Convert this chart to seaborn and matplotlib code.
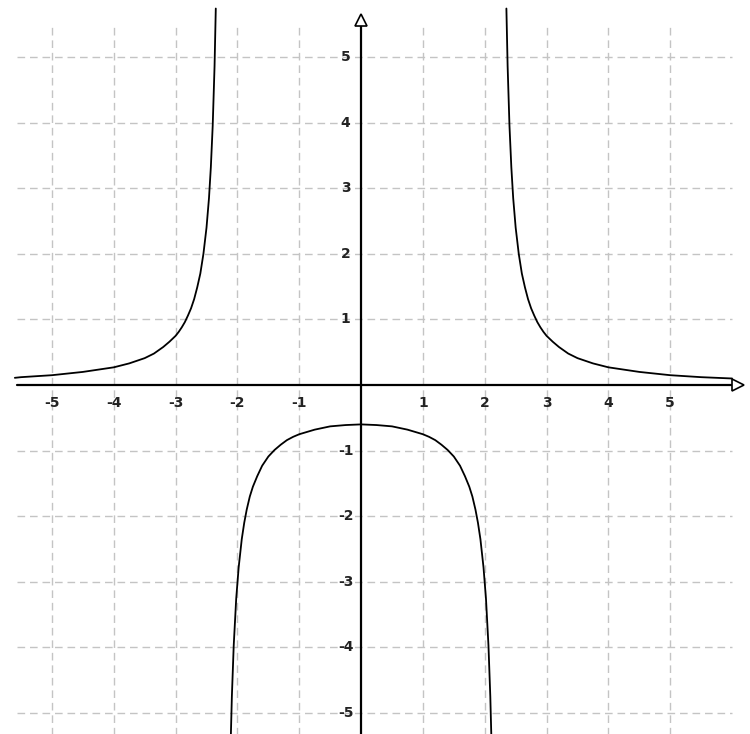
import numpy as np
import pandas as pd
import seaborn as sns
import matplotlib.pyplot as plt

# curve points, one list per branch
left_x = [-5.60, -5.50, -5.00, -4.50, -4.00, -3.75, -3.50, -3.35, -3.20, -3.10,
          -3.00, -2.95, -2.90, -2.85, -2.80, -2.75, -2.70, -2.65, -2.60, -2.55,
          -2.50, -2.46, -2.43, -2.40, -2.37, -2.35]
left_y = [0.11, 0.12, 0.15, 0.20, 0.27, 0.33, 0.41, 0.48, 0.58, 0.66,
          0.75, 0.81, 0.88, 0.96, 1.06, 1.17, 1.31, 1.49, 1.70, 2.00,
          2.40, 2.85, 3.32, 3.95, 4.86, 5.74]

mid_x = [-2.11, -2.09, -2.06, -2.02, -1.98, -1.93, -1.89, -1.85, -1.80, -1.75,
         -1.68, -1.60, -1.50, -1.40, -1.30, -1.20, -1.10, -1.00, -0.75, -0.50,
         -0.25, 0.00, 0.25, 0.50, 0.75, 1.00, 1.10, 1.20, 1.30, 1.40,
         1.50, 1.60, 1.68, 1.75, 1.80, 1.85, 1.89, 1.93, 1.98, 2.02,
         2.06, 2.09, 2.11]
mid_y = [-5.48, -4.75, -3.97, -3.26, -2.78, -2.35, -2.10, -1.90, -1.70, -1.55,
         -1.39, -1.23, -1.09, -0.99, -0.91, -0.84, -0.79, -0.75, -0.68, -0.63,
         -0.61, -0.60, -0.61, -0.63, -0.68, -0.75, -0.79, -0.84, -0.91, -0.99,
         -1.09, -1.23, -1.39, -1.55, -1.70, -1.90, -2.10, -2.35, -2.78, -3.26,
         -3.97, -4.75, -5.48]

right_x = [2.35, 2.37, 2.40, 2.43, 2.46, 2.50, 2.55, 2.60, 2.65, 2.70,
           2.75, 2.80, 2.85, 2.90, 2.95, 3.00, 3.10, 3.20, 3.35, 3.50,
           3.75, 4.00, 4.50, 5.00, 5.50, 6.00]
right_y = [5.74, 4.86, 3.95, 3.32, 2.85, 2.40, 2.00, 1.70, 1.49, 1.31,
           1.17, 1.06, 0.96, 0.88, 0.81, 0.75, 0.66, 0.58, 0.48, 0.41,
           0.33, 0.27, 0.20, 0.15, 0.12, 0.10]

x_ticks = [-5, -4, -3, -2, -1, 1, 2, 3, 4, 5]
y_ticks = [-5, -4, -3, -2, -1, 1, 2, 3, 4, 5]

sns.set_style("white")
plt.rcParams['font.family'] = ['DejaVu Sans']

fig = plt.figure(figsize=(7.5, 7.34), dpi=100)
ax = fig.add_axes([0, 0, 1, 1])
ax.set_xlim(-5.84, 6.29)
ax.set_ylim(-5.32, 5.87)
ax.axis('off')

# dashed grid
grid_kw = dict(color='#c4c4c4', linewidth=1.0, linestyles=(0, (5.5, 3.5)), zorder=1)
ax.vlines(x_ticks, -5.4, 5.5, **grid_kw)
ax.hlines(y_ticks, -5.57, 6.0, **grid_kw)

# axes with open arrow heads
ax.plot([-5.57, 6.1], [0, 0], color='black', lw=1.6, zorder=3)
ax.plot([0, 0], [-5.4, 5.55], color='black', lw=1.6, zorder=3)
ax.plot([6.1], [0], marker='>', markersize=8, mfc='white', mec='black', mew=1.2, zorder=4)
ax.plot([0], [5.56], marker='^', markersize=8, mfc='white', mec='black', mew=1.2, zorder=4)

for bx, by in [(left_x, left_y), (mid_x, mid_y), (right_x, right_y)]:
    df = pd.DataFrame({'x': bx, 'y': by})
    sns.lineplot(data=df, x='x', y='y', sort=False, color='black', lw=1.3, ax=ax, zorder=5)

for t in x_ticks:
    ax.text(t, -0.28, str(t), ha='center', va='center', fontsize=10,
            fontweight='bold', color='#222222')
for t in y_ticks:
    ax.text(-0.25, t, str(t), ha='center', va='center', fontsize=10,
            fontweight='bold', color='#222222')

fig.savefig('out.png', dpi=100)
